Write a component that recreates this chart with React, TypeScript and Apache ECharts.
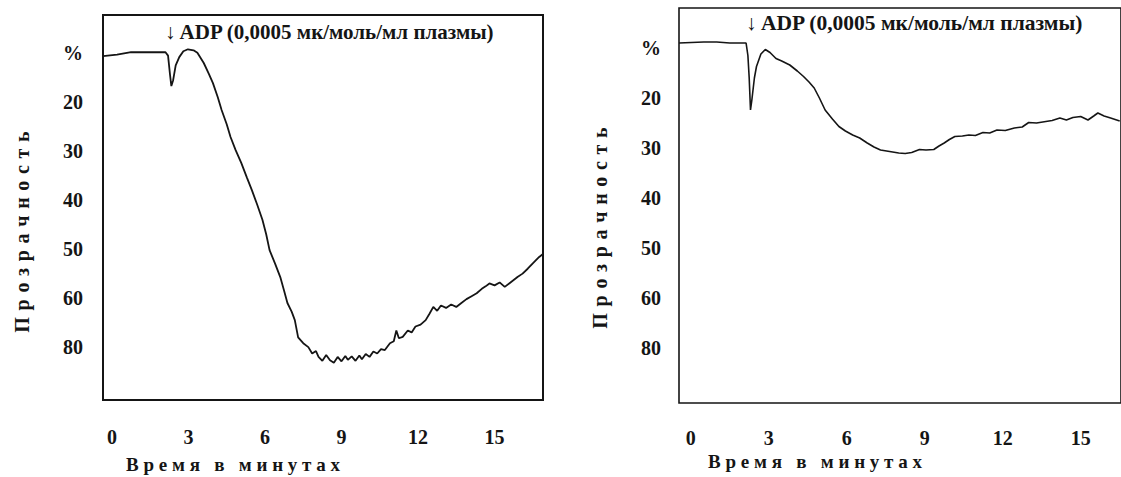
import React, { useEffect, useRef } from "react";
import * as echarts from "echarts";

// Left panel (aggregation curve) — time in minutes, transparency axis value
const leftTime = [
  -0.35, 0.2, 0.75, 1.5, 2.1, 2.2, 2.28, 2.33, 2.4, 2.5, 2.64, 2.8, 2.98, 3.2, 3.35, 3.6, 3.8, 3.96,
  4.15, 4.3, 4.5, 4.65, 4.85, 5.07, 5.3, 5.49, 5.7, 5.9, 6.05, 6.18, 6.4, 6.6, 6.75, 6.88, 7.05,
  7.17, 7.3, 7.5, 7.7, 7.85, 8.0, 8.1, 8.25, 8.4, 8.55, 8.7, 8.85, 9.0, 9.15, 9.25, 9.4, 9.55, 9.7,
  9.8, 9.95, 10.1, 10.25, 10.4, 10.55, 10.7, 10.9, 11.05, 11.15, 11.25, 11.4, 11.6, 11.75, 11.9,
  12.1, 12.3, 12.45, 12.6, 12.75, 12.9, 13.1, 13.3, 13.5, 13.7, 13.9, 14.1, 14.3, 14.5, 14.65, 14.8,
  15.0, 15.2, 15.4, 15.6, 15.9, 16.1, 16.3, 16.5, 16.75, 16.9,
];
const leftValue = [
  10.6, 10.3, 9.8, 9.8, 9.8, 10.5, 14.5, 16.7, 15.5, 12.5, 10.8, 9.6, 9.2, 9.4, 9.9, 12, 14.2, 16.1,
  19, 21.6, 24.5, 27.1, 29.8, 32.4, 35.5, 38, 41, 44, 47, 50.2, 53, 55.7, 58.5, 61, 62.8,
  64.5, 68, 69.2, 70, 71.3, 70.8, 72, 72.8, 71.6, 72.7, 73.2, 72.0, 72.9, 71.8, 72.6, 71.9, 72.8, 71.7,
  72.5, 71.4, 72.0, 70.9, 71.3, 70.4, 70.6, 69.2, 68.8, 66.6, 68.2, 67.9, 66.6, 67.0, 65.8,
  65.4, 64.5, 63.2, 61.8, 62.6, 61.5, 62.0, 61.3, 61.8, 61.0, 60.2, 59.6, 59.0, 58.1, 57.6, 57.0,
  57.4, 56.8, 57.7, 56.9, 55.7, 55.0, 54.0, 52.9, 51.6, 51.0,
];

// Right panel
const rightTime = [
  -0.45, 0.5, 1.0, 1.5, 2.13, 2.2, 2.25, 2.3, 2.35, 2.45, 2.53, 2.7, 2.87, 3.05, 3.28, 3.5, 3.81,
  4.1, 4.34, 4.55, 4.75, 4.95, 5.17, 5.45, 5.7, 5.95, 6.23, 6.5, 6.79, 7.05, 7.3, 7.65, 8.0, 8.25,
  8.5, 8.8, 9.05, 9.35, 9.55, 9.75, 9.95, 10.16, 10.45, 10.7, 10.95, 11.24, 11.5, 11.78, 12.1,
  12.45, 12.75, 13.0, 13.3, 13.66, 13.9, 14.2, 14.45, 14.7, 15.0, 15.28, 15.5, 15.66, 15.9, 16.15,
  16.5,
];
const rightValue = [
  9.0, 8.8, 8.8, 9.0, 9.0, 11.5, 16, 22.4, 20.5, 16, 13.7, 11.2, 10.3, 10.9, 12.1, 12.6, 13.4,
  14.6, 15.7, 16.8, 18, 20, 22.4, 24.2, 25.7, 26.6, 27.4, 28.0, 29, 29.8, 30.4, 30.7, 31, 31.1,
  30.9, 30.3, 30.4, 30.3, 29.6, 29, 28.3, 27.7, 27.6, 27.4, 27.5, 26.9, 27.0, 26.4, 26.5,
  26, 25.8, 24.9, 25.0, 24.7, 24.5, 24.0, 24.4, 23.9, 23.7, 24.4, 23.6, 23.0, 23.6, 24.0,
  24.6,
];

const xTickValues = [0, 3, 6, 9, 12, 15];
const yTickValues = [10, 20, 30, 40, 50, 60, 70];
const yTickLabels = ["%", "20", "30", "40", "50", "60", "80"];

const annotation = "\u2193 ADP (0,0005 мк/моль/мл плазмы)";
const yTitle = "Прозрачность";
const xTitle = "Время в минутах";

const FONT = "'Liberation Serif', 'DejaVu Serif', serif";
const INK = "#151515";

function spaced(s: string, gap: string) {
  return s
    .split(" ")
    .map((w) => w.split("").join(gap))
    .join(gap + gap + gap);
}

export default function App() {
  const ref = useRef<HTMLDivElement>(null);
  useEffect(() => {
    if (!ref.current) return;
    const chart = echarts.init(ref.current, null, { renderer: "svg" });
    const labelStyle = { color: INK, fontFamily: FONT, fontWeight: "bold" as const, fontSize: 20 };
    const xAxisCommon = (gridIndex: number, min: number, max: number, margin: number) => ({
      type: "value" as const,
      gridIndex,
      min,
      max,
      axisLine: { show: false },
      axisTick: { show: false },
      splitLine: { show: false },
      axisLabel: { ...labelStyle, margin, customValues: xTickValues, showMinLabel: true, showMaxLabel: true },
    });
    const yAxisCommon = (gridIndex: number, min: number, max: number, margin: number) => ({
      type: "value" as const,
      gridIndex,
      inverse: true,
      min,
      max,
      axisLine: { show: false },
      axisTick: { show: false },
      splitLine: { show: false },
      axisLabel: {
        ...labelStyle,
        margin,
        customValues: yTickValues,
        formatter: (v: number) => {
          const i = yTickValues.indexOf(Math.round(v));
          return i >= 0 ? yTickLabels[i] : "";
        },
      },
    });
    const yGap = "\u2004";
    const xGap = "\u2005";
    chart.setOption({
      animation: false,
      backgroundColor: "#ffffff",
      grid: [
        { left: 103, top: 15, width: 440, height: 385, show: true, borderColor: INK, borderWidth: 2 },
        { left: 679, top: 8, width: 452, height: 395, show: true, borderColor: INK, borderWidth: 1.6 },
      ],
      xAxis: [xAxisCommon(0, -0.35, 16.9, 27), xAxisCommon(1, -0.45, 16.55, 25)],
      yAxis: [yAxisCommon(0, 2.2, 80.8, 20), yAxisCommon(1, 2, 81, 18)],
      series: [
        {
          type: "line",
          xAxisIndex: 0,
          yAxisIndex: 0,
          data: leftTime.map((t, i) => [t, leftValue[i]]),
          showSymbol: false,
          lineStyle: { color: INK, width: 1.8 },
          clip: true,
        },
        {
          type: "line",
          xAxisIndex: 1,
          yAxisIndex: 1,
          data: rightTime.map((t, i) => [t, rightValue[i]]),
          showSymbol: false,
          lineStyle: { color: INK, width: 1.6 },
          clip: true,
        },
      ],
      graphic: [
        {
          type: "text",
          x: 165,
          y: 32,
          style: { text: annotation, fill: INK, font: `bold 21px ${FONT}`, textAlign: "left", textVerticalAlign: "middle" },
        },
        {
          type: "text",
          x: 746,
          y: 23,
          style: { text: annotation, fill: INK, font: `bold 21.5px ${FONT}`, textAlign: "left", textVerticalAlign: "middle" },
        },
        {
          type: "text",
          x: 22,
          y: 232,
          rotation: Math.PI / 2,
          style: { text: spaced(yTitle, yGap), fill: INK, font: `bold 20px ${FONT}`, textAlign: "center", textVerticalAlign: "middle" },
        },
        {
          type: "text",
          x: 600,
          y: 228,
          rotation: Math.PI / 2,
          style: { text: spaced(yTitle, yGap), fill: INK, font: `bold 20px ${FONT}`, textAlign: "center", textVerticalAlign: "middle" },
        },
        {
          type: "text",
          x: 233,
          y: 464,
          style: { text: spaced(xTitle, xGap), fill: INK, font: `bold 19px ${FONT}`, textAlign: "center", textVerticalAlign: "middle" },
        },
        {
          type: "text",
          x: 815,
          y: 461,
          style: { text: spaced(xTitle, xGap), fill: INK, font: `bold 19px ${FONT}`, textAlign: "center", textVerticalAlign: "middle" },
        },
      ],
    });
    return () => chart.dispose();
  }, []);
  return (
    <div
      ref={ref}
      style={{ position: "fixed", left: 0, top: 0, width: 1121, height: 477, background: "#fff" }}
    />
  );
}
